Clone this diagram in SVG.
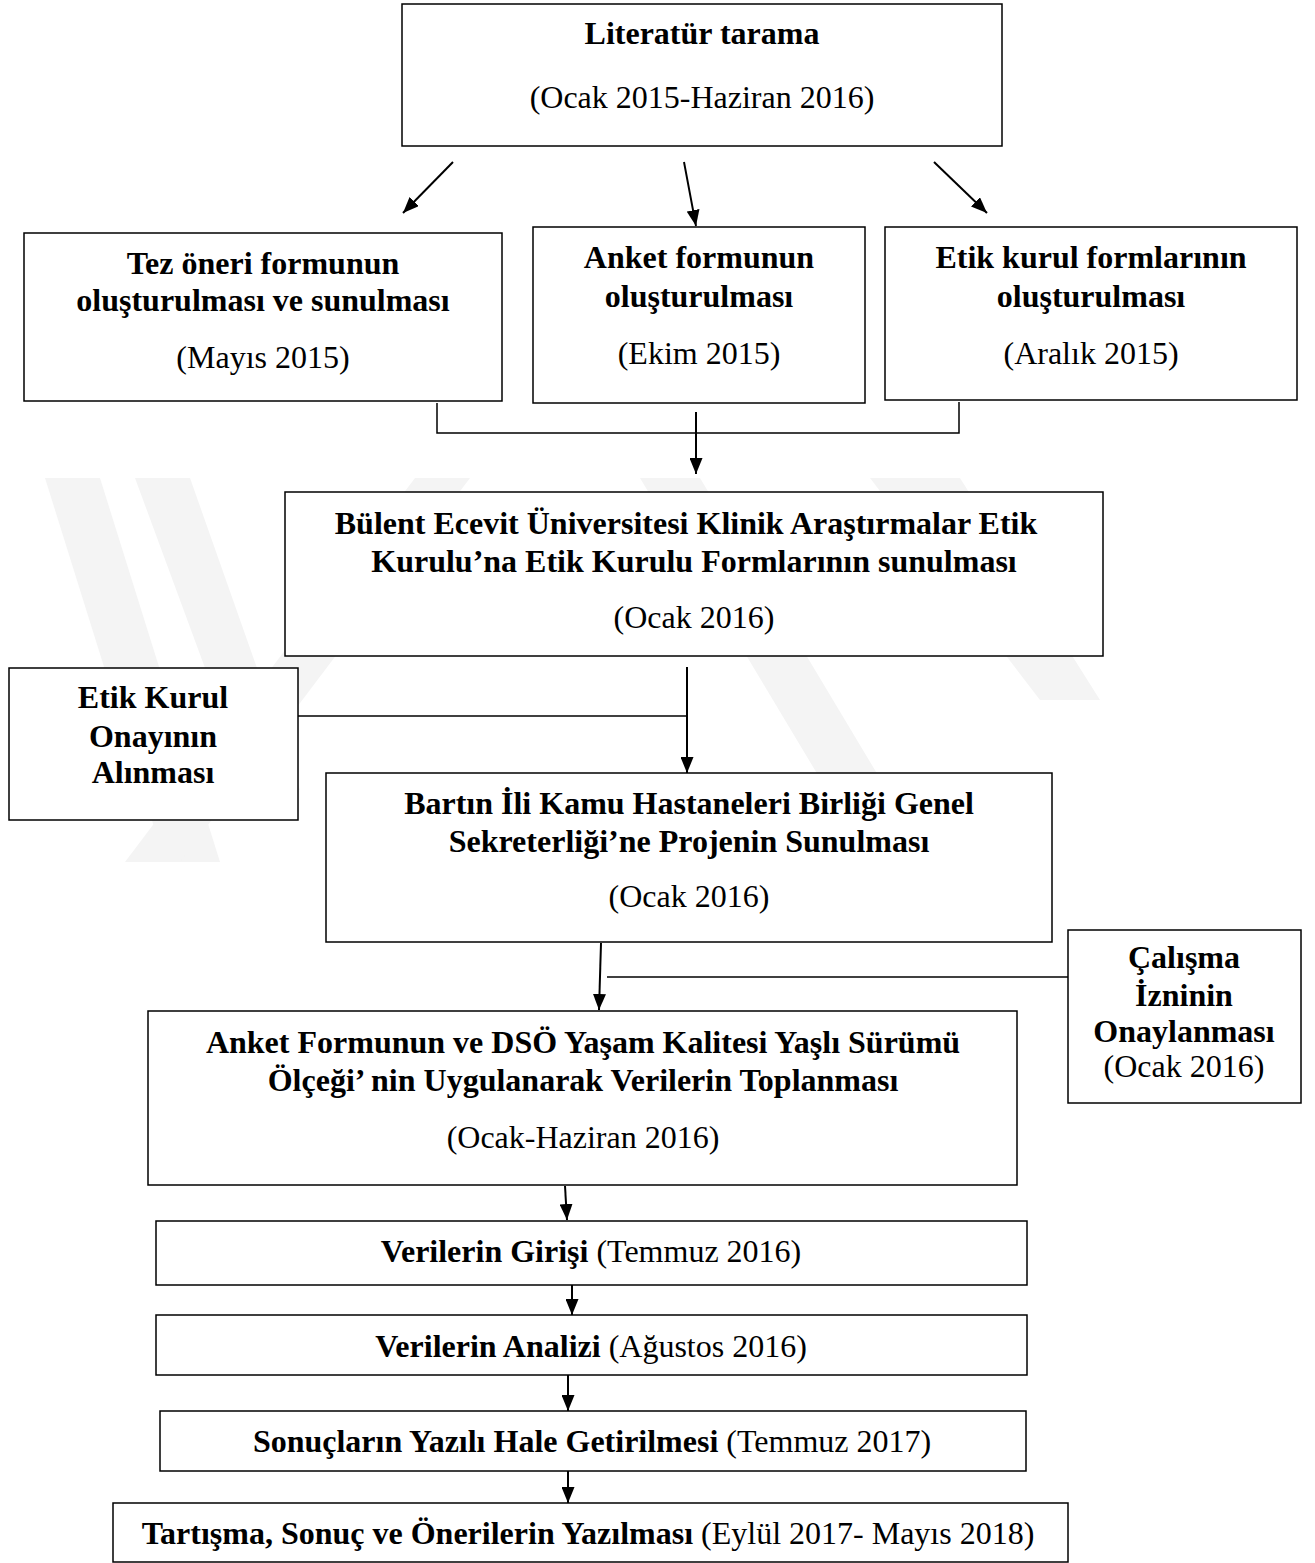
<svg xmlns="http://www.w3.org/2000/svg" width="1315" height="1563" viewBox="0 0 1315 1563">
<style>
.box{fill:#fff;stroke:#000;stroke-width:1.5}
.t{font-family:"Liberation Serif","Times New Roman",serif;font-size:32px;text-anchor:middle;fill:#000}
.b{font-weight:bold}
.ln{fill:none;stroke:#000;stroke-width:1.5}
.ar{fill:none;stroke:#000;stroke-width:2}
.wm{fill:#f4f4f4}
</style>
<defs>
<marker id="ah" viewBox="0 0 16 13" refX="16" refY="6.5" markerWidth="16" markerHeight="13" markerUnits="userSpaceOnUse" orient="auto">
<path d="M0,0 L16,6.5 L0,13 Z" fill="#000"/>
</marker>
</defs>
<rect width="1315" height="1563" fill="#fff"/>
<g id="watermark">
<polygon class="wm" points="45,478 100,478 220,862 165,862"/>
<polygon class="wm" points="135,478 190,478 300,790 250,790"/>
<polygon class="wm" points="125,862 180,862 470,478 415,478"/>
<polygon class="wm" points="640,478 700,478 930,862 870,862"/>
<polygon class="wm" points="870,478 960,478 1100,700 1040,700"/>
</g>
<g id="connectors">
<line class="ar" x1="453" y1="162" x2="403" y2="213" marker-end="url(#ah)"/>
<line class="ar" x1="684" y1="162" x2="696" y2="226" marker-end="url(#ah)"/>
<line class="ar" x1="934" y1="162" x2="987" y2="213" marker-end="url(#ah)"/>
<polyline class="ln" points="437,403 437,433 959,433 959,402"/>
<line class="ar" x1="696" y1="412" x2="696" y2="474" marker-end="url(#ah)"/>
<line class="ar" x1="687" y1="667" x2="687" y2="773" marker-end="url(#ah)"/>
<line class="ln" x1="298" y1="716" x2="687" y2="716"/>
<line class="ar" x1="601" y1="943" x2="599" y2="1010" marker-end="url(#ah)"/>
<line class="ln" x1="607" y1="977" x2="1068" y2="977"/>
<line class="ar" x1="565" y1="1186" x2="567" y2="1220" marker-end="url(#ah)"/>
<line class="ar" x1="572" y1="1285" x2="572" y2="1315" marker-end="url(#ah)"/>
<line class="ar" x1="568" y1="1375" x2="568" y2="1411" marker-end="url(#ah)"/>
<line class="ar" x1="568" y1="1471" x2="568" y2="1503" marker-end="url(#ah)"/>
</g>
<g id="n1">
<rect class="box" x="402" y="4" width="600" height="142"/>
<text class="t b" x="702" y="44">Literatür tarama</text>
<text class="t" x="702" y="108">(Ocak 2015-Haziran 2016)</text>
</g>
<g id="n2">
<rect class="box" x="24" y="233" width="478" height="168"/>
<text class="t b" x="263" y="274">Tez öneri formunun</text>
<text class="t b" x="263" y="311">oluşturulması ve sunulması</text>
<text class="t" x="263" y="368">(Mayıs 2015)</text>
</g>
<g id="n3">
<rect class="box" x="533" y="227" width="332" height="176"/>
<text class="t b" x="699" y="268">Anket formunun</text>
<text class="t b" x="699" y="307">oluşturulması</text>
<text class="t" x="699" y="364">(Ekim 2015)</text>
</g>
<g id="n4">
<rect class="box" x="885" y="227" width="412" height="173"/>
<text class="t b" x="1091" y="268">Etik kurul formlarının</text>
<text class="t b" x="1091" y="307">oluşturulması</text>
<text class="t" x="1091" y="364">(Aralık 2015)</text>
</g>
<g id="n5">
<rect class="box" x="285" y="492" width="818" height="164"/>
<text class="t b" x="686" y="534">Bülent Ecevit Üniversitesi Klinik Araştırmalar Etik</text>
<text class="t b" x="694" y="572">Kurulu’na Etik Kurulu Formlarının sunulması</text>
<text class="t" x="694" y="628">(Ocak 2016)</text>
</g>
<g id="n6">
<rect class="box" x="9" y="668" width="289" height="152"/>
<text class="t b" x="153" y="708">Etik Kurul</text>
<text class="t b" x="153" y="747">Onayının</text>
<text class="t b" x="153" y="783">Alınması</text>
</g>
<g id="n7">
<rect class="box" x="326" y="773" width="726" height="169"/>
<text class="t b" x="689" y="814">Bartın İli Kamu Hastaneleri Birliği Genel</text>
<text class="t b" x="689" y="852">Sekreterliği’ne Projenin Sunulması</text>
<text class="t" x="689" y="907">(Ocak 2016)</text>
</g>
<g id="n8">
<rect class="box" x="1068" y="930" width="233" height="173"/>
<text class="t b" x="1184" y="968">Çalışma</text>
<text class="t b" x="1184" y="1006">İzninin</text>
<text class="t b" x="1184" y="1042">Onaylanması</text>
<text class="t" x="1184" y="1077">(Ocak 2016)</text>
</g>
<g id="n9">
<rect class="box" x="148" y="1011" width="869" height="174"/>
<text class="t b" x="583" y="1053">Anket Formunun ve DSÖ Yaşam Kalitesi Yaşlı Sürümü</text>
<text class="t b" x="583" y="1091">Ölçeği’ nin Uygulanarak Verilerin Toplanması</text>
<text class="t" x="583" y="1148">(Ocak-Haziran 2016)</text>
</g>
<g id="n10">
<rect class="box" x="156" y="1221" width="871" height="64"/>
<text class="t" x="591" y="1262"><tspan class="b">Verilerin Girişi</tspan> (Temmuz 2016)</text>
</g>
<g id="n11">
<rect class="box" x="156" y="1315" width="871" height="60"/>
<text class="t" x="591" y="1357"><tspan class="b">Verilerin Analizi</tspan> (Ağustos 2016)</text>
</g>
<g id="n12">
<rect class="box" x="160" y="1411" width="866" height="60"/>
<text class="t" x="592" y="1452"><tspan class="b">Sonuçların Yazılı Hale Getirilmesi</tspan> (Temmuz 2017)</text>
</g>
<g id="n13">
<rect class="box" x="113" y="1503" width="955" height="59"/>
<text class="t" x="588" y="1544"><tspan class="b">Tartışma, Sonuç ve Önerilerin Yazılması</tspan> (Eylül 2017- Mayıs 2018)</text>
</g>
</svg>
